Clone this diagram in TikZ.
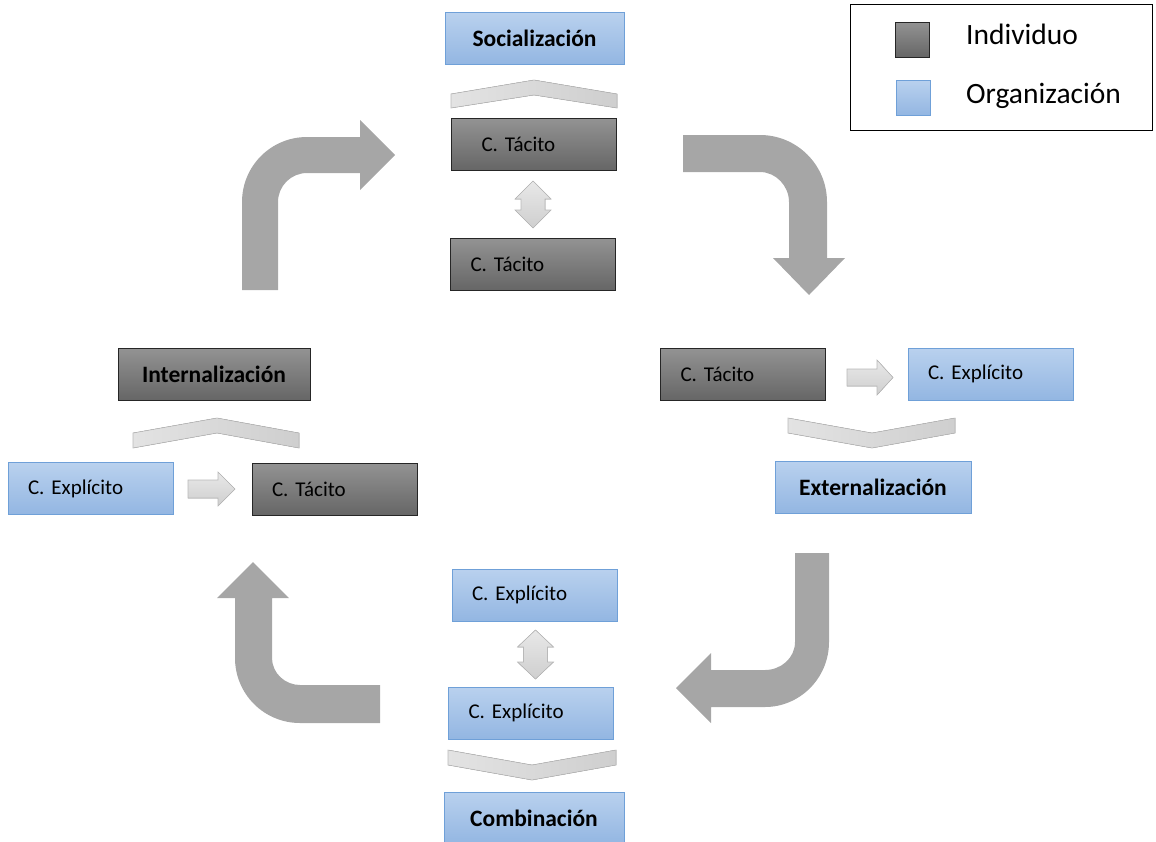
\documentclass[tikz,border=0pt]{standalone}
\usepackage{fontspec}
\setmainfont{Carlito}
\usepackage{xcolor}
\usepackage{tikz}
\usetikzlibrary{positioning}

\definecolor{indtop}{HTML}{939393}
\definecolor{indbot}{HTML}{666666}
\definecolor{orgtop}{HTML}{B9D1EE}
\definecolor{orgbot}{HTML}{93B6E2}
\definecolor{orgline}{HTML}{6FA0D8}
\definecolor{bigarr}{HTML}{A6A6A6}

\frenchspacing
\begin{document}
\begin{tikzpicture}[
      x=1pt, y=-1pt,
      kbox/.style    = {minimum height=52pt, inner sep=0pt, line width=0.9pt,
                        font=\fontsize{21}{25}\selectfont},
      ind/.style     = {kbox, draw=black!85, top color=indtop, bottom color=indbot},
      org/.style     = {kbox, draw=orgline, top color=orgtop, bottom color=orgbot},
      plain/.style   = {text width=125pt, inner xsep=20pt, align=left},
      title/.style   = {align=center, font=\bfseries\fontsize{23.5}{27}\selectfont},
      chev/.style    = {draw=gray!55, left color=gray!22, right color=gray!38, line width=0.6pt},
      smallarr/.style= {draw=gray!55, top color=gray!18, bottom color=gray!38, line width=0.6pt},
      bigarrow/.style= {fill=bigarr},
      legtxt/.style  = {anchor=west, inner sep=0pt, font=\fontsize{29.5}{33}\selectfont}
  ]
  \useasboundingbox (0,0) rectangle (1156,841);

  % --- Socialización ---
  \node[org, title, minimum width=179pt] (soc)  at (534.5,38.5) {Socialización};
  \node[ind, plain, text width=105pt, inner xsep=30pt] (soctA) at (534,144) {C. Tácito};
  \node[ind, plain] (soctB) at (533,264) {C. Tácito};
  \fill[chev] (451,94) -- (534,80) -- (617,94) -- (617,108) -- (534,95) -- (451,108) -- cycle;
  \fill[smallarr] (533,181) -- (551,199) -- (545,199) -- (545,210) -- (551,210) -- (533,228)
        -- (515,210) -- (521,210) -- (521,199) -- (515,199) -- cycle;

  % --- Externalización ---
  \node[ind, plain] (extt) at (743,374) {C. Tácito};
  \node[org, plain] (exte) at (990.5,374) {C. Explícito};
  \node[org, title, minimum width=196pt] (ext) at (873,487) {Externalización};
  \fill[smallarr] (847,369) -- (877,369) -- (877,360) -- (893,377.5) -- (877,395) -- (877,386)
        -- (847,386) -- cycle;
  \fill[chev] (788,418) -- (872,433) -- (955,418) -- (955,433) -- (872,448) -- (788,433) -- cycle;

  % --- Combinación ---
  \node[org, plain] (comeA) at (534.5,595) {C. Explícito};
  \node[org, plain] (comeB) at (531,713) {C. Explícito};
  \node[org, title, minimum width=180pt] (com) at (534,818) {Combinación};
  \fill[smallarr] (535.5,630) -- (553.5,647) -- (547.5,647) -- (547.5,662) -- (553.5,662)
        -- (535.5,679) -- (517.5,662) -- (523.5,662) -- (523.5,647) -- (517.5,647) -- cycle;
  \fill[chev] (448,750) -- (532,765) -- (616,750) -- (616,765) -- (532,780) -- (448,765) -- cycle;

  % --- Internalización ---
  \node[ind, title, minimum width=192pt] (int) at (214,374) {Internalización};
  \node[org, plain] (inte) at (90.5,488.5) {C. Explícito};
  \node[ind, plain] (intt) at (334.5,489) {C. Tácito};
  \fill[chev] (133,433) -- (217,418) -- (299,433) -- (299,448) -- (217,433) -- (133,448) -- cycle;
  \fill[smallarr] (188,480) -- (218,480) -- (218,472) -- (235,489) -- (218,506) -- (218,498)
        -- (188,498) -- cycle;

  % --- Big arrows of the cycle ---
  \fill[bigarrow] (242,290) -- (242,202) .. controls (242,166) and (271,137) .. (307,137)
        -- (360,137) -- (360,120) -- (395,155) -- (360,190) -- (360,173) -- (307,173)
        .. controls (291,173) and (278,186) .. (278,202) -- (278,290) -- cycle;
  \fill[bigarrow] (683,135) -- (760,135) .. controls (797,135) and (827,165) .. (827,202)
        -- (827,258) -- (845,258) -- (809,295) -- (773,258) -- (789,258) -- (789,202)
        .. controls (789,186) and (776,172) .. (760,172) -- (683,172) -- cycle;
  \fill[bigarrow] (795,553) -- (829,553) -- (829,642) .. controls (829,678) and (800,707) .. (765,707)
        -- (711,707) -- (711,723) -- (676,688) -- (711,653) -- (711,670) -- (765,670)
        .. controls (781,670) and (795,658) .. (795,642) -- cycle;
  \fill[bigarrow] (380,685) -- (300,685) .. controls (285,685) and (272,673) .. (272,658)
        -- (272,598) -- (289,598) -- (253,562) -- (217,598) -- (235,598) -- (235,658)
        .. controls (235,694) and (264,723) .. (300,723) -- (380,723) -- cycle;

  % --- Legend ---
  \node[draw, line width=1pt, minimum width=302pt, minimum height=126pt] (legend) at (1001,67) {};
  \node[ind, minimum width=34pt, minimum height=35pt] (legind) at (912,39.5) {};
  \node[org, minimum width=34pt, minimum height=35pt] (legorg) at (913,97.5) {};
  \node[legtxt] (legindtxt) at (966,34) {Individuo};
  \node[legtxt] (legorgtxt) at (966,96) {Organización};

  \end{tikzpicture}
\end{document}
